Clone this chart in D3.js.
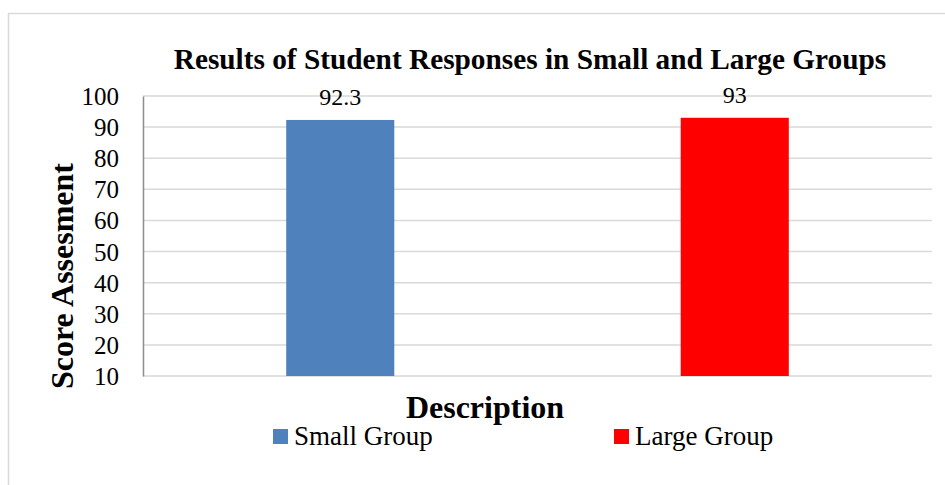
<!DOCTYPE html>
<html><head><meta charset="utf-8">
<script src="https://cdn.jsdelivr.net/npm/d3@7/dist/d3.min.js"></script>
<style>html,body{margin:0;padding:0;background:#fff;}svg{display:block;}</style>
</head><body>
<svg id="chart" width="945" height="485"></svg>
<script>
const categories = ["Small Group", "Large Group"];
const values = [92.3, 93];
const valueLabels = ["92.3", "93"];
const colors = ["#4F81BD", "#FF0000"];
const yTicks = [10, 20, 30, 40, 50, 60, 70, 80, 90, 100];
const title = "Results of Student Responses in Small and Large Groups";
const yTitle = "Score Assesment";
const xTitle = "Description";

const svg = d3.select("#chart");
const serif = "'Liberation Serif', 'Times New Roman', serif";

svg.append("rect").attr("x", 8.5).attr("y", 13.5).attr("width", 960).attr("height", 500)
  .attr("fill", "#fff").attr("stroke", "#d9d9d9").attr("stroke-width", 1.5);

const m = {left: 143, right: 932, top: 96, bottom: 376};
const y = d3.scaleLinear().domain([10, 100]).range([m.bottom, m.top]);
const x = d3.scaleBand().domain(categories).range([m.left, m.right]).paddingInner(0).paddingOuter(0);
const barW = x.bandwidth() * 0.274;

// gridlines
svg.append("g").selectAll("line").data(yTicks).join("line")
  .attr("x1", m.left).attr("x2", m.right)
  .attr("y1", d => y(d)).attr("y2", d => y(d))
  .attr("stroke", "#d9d9d9").attr("stroke-width", 1.5);

// bars
svg.append("g").selectAll("rect").data(values).join("rect")
  .attr("x", (d, i) => x(categories[i]) + x.bandwidth() / 2 - barW / 2)
  .attr("width", barW)
  .attr("y", d => y(d))
  .attr("height", d => y(10) - y(d))
  .attr("fill", (d, i) => colors[i]);

// left axis
const yAxis = d3.axisLeft(y).tickValues(yTicks).tickSize(0).tickPadding(24);
const gy = svg.append("g").attr("transform", `translate(${m.left},0)`).call(yAxis);
gy.select(".domain").attr("stroke", "#8c8c8c").attr("stroke-width", 1.5);
gy.selectAll("text").attr("font-family", serif).attr("font-size", 25).attr("fill", "#000").attr("dy", "0.34em");

// value labels
svg.append("g").selectAll("text").data(values).join("text")
  .attr("x", (d, i) => x(categories[i]) + x.bandwidth() / 2)
  .attr("y", d => y(d) - 15)
  .attr("text-anchor", "middle")
  .attr("font-family", serif).attr("font-size", 24).attr("fill", "#000")
  .text((d, i) => valueLabels[i]);

// title
svg.append("text").attr("x", 530).attr("y", 69).attr("text-anchor", "middle")
  .attr("font-family", serif).attr("font-weight", "bold").attr("font-size", 29.3)
  .text(title);

// y title
svg.append("text").attr("transform", "translate(73,276) rotate(-90)").attr("text-anchor", "middle")
  .attr("font-family", serif).attr("font-weight", "bold").attr("font-size", 32)
  .text(yTitle);

// x title
svg.append("text").attr("x", 485).attr("y", 418).attr("text-anchor", "middle")
  .attr("font-family", serif).attr("font-weight", "bold").attr("font-size", 32)
  .text(xTitle);

// legend
const legX = [273, 614];
const leg = svg.append("g").selectAll("g").data(categories).join("g")
  .attr("transform", (d, i) => `translate(${legX[i]},429)`);
leg.append("rect").attr("width", 15).attr("height", 15).attr("fill", (d, i) => colors[i]);
leg.append("text").attr("x", 21).attr("y", 16)
  .attr("font-family", "'Liberation Serif', 'DejaVu Serif', serif").attr("font-size", 27).attr("fill", "#000")
  .text(d => d);
</script>
</body></html>
